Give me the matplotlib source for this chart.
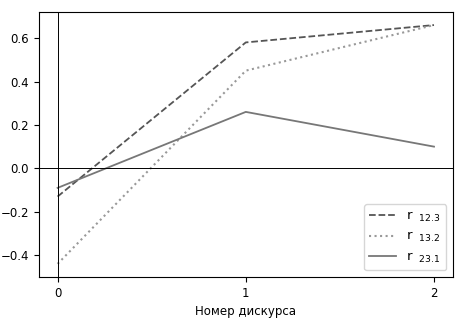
import numpy as np
import matplotlib.pyplot as plt

discourse = [0, 1, 2]
r12_3 = [-0.13, 0.58, 0.66]
r13_2 = [-0.44, 0.45, 0.66]
r23_1 = [-0.09, 0.26, 0.10]

fig, ax = plt.subplots(figsize=(4.56, 3.25), dpi=100)
fig.subplots_adjust(left=0.085, right=0.993, top=0.963, bottom=0.148)

ax.plot(discourse, r12_3, '--', color='#555555', lw=1.3, label='r $_{\\ 12.3}$')
ax.plot(discourse, r13_2, ':', color='#999999', lw=1.5, label='r $_{\\ 13.2}$')
ax.plot(discourse, r23_1, '-', color='#777777', lw=1.3, label='r $_{\\ 23.1}$')
ax.axhline(0, color='black', lw=0.7)
ax.axvline(0, color='black', lw=0.7)

ax.set_xticks(discourse)
ax.set_ylim(-0.5, 0.72)
ax.set_xlabel('Номер дискурса', fontsize=8.5)
ax.tick_params(labelsize=8.5)
ax.legend(loc='lower right', fontsize=9.5)

fig.savefig('out.png')
